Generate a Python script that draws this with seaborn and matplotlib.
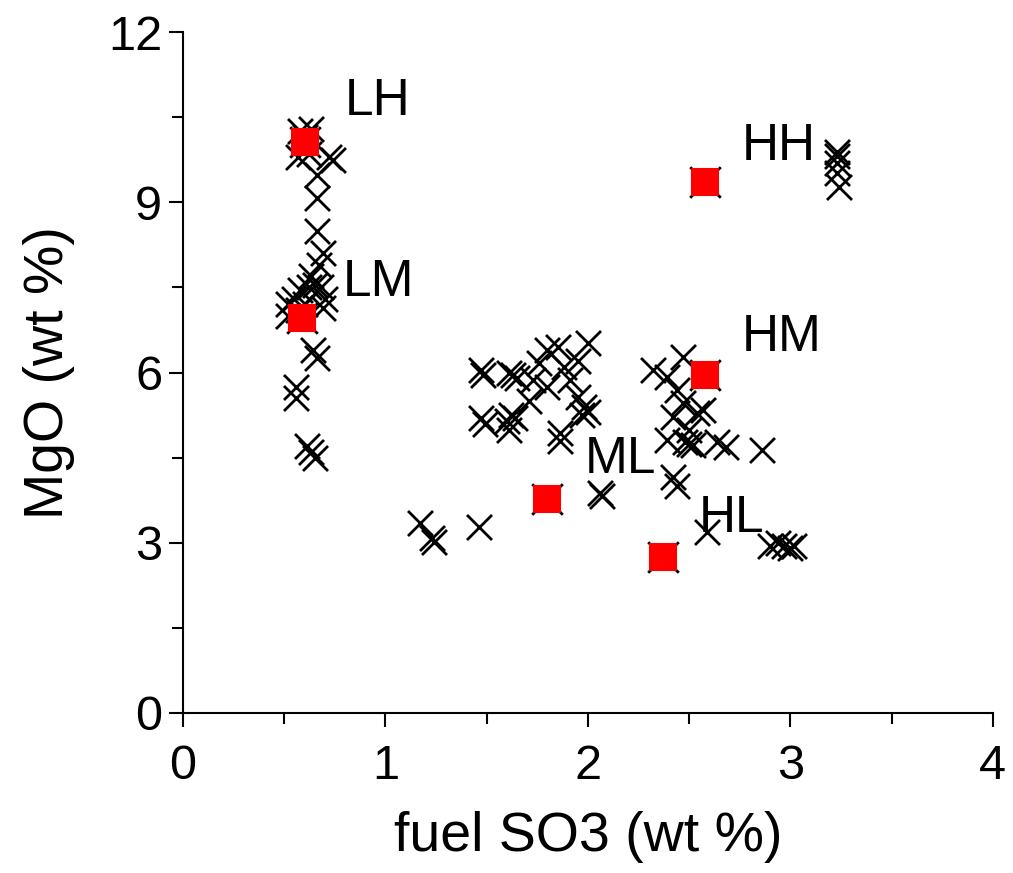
import matplotlib
matplotlib.use("Agg")
import matplotlib.pyplot as plt
import seaborn as sns
import pandas as pd
from matplotlib.ticker import MultipleLocator

# ---- data ----
black_x = [0.58, 0.63, 0.60, 0.57, 0.62, 0.72, 0.74, 0.66, 0.66, 0.66, 0.69, 0.67, 0.63,
           0.55, 0.58, 0.62, 0.65, 0.68, 0.60, 0.57, 0.70, 0.52, 0.52, 0.69, 0.64, 0.66,
           0.56, 0.56, 0.61, 0.63, 0.65,
           1.47, 1.48, 1.47, 1.49, 1.61, 1.63, 1.65, 1.62, 1.64, 1.60, 1.61, 1.80, 1.85,
           2.00, 1.88, 1.80, 1.73, 1.71, 1.98, 2.00, 1.97, 1.95, 1.86, 1.86, 1.91, 1.95,
           1.76, 2.06, 2.07, 1.17, 1.23, 1.24, 1.46,
           2.32, 2.47, 2.39, 2.44, 2.47, 2.54, 2.57, 2.42, 2.50, 2.39, 2.48, 2.50, 2.52,
           2.64, 2.68, 2.86, 2.42, 2.44, 2.59, 2.90, 2.94, 2.97, 3.00, 3.02,
           3.23, 3.23, 3.23, 3.23, 3.24]
black_y = [10.25, 10.30, 10.15, 9.80, 9.85, 9.80, 9.75, 9.48, 9.07, 8.50, 8.10, 7.90, 7.70,
           7.30, 7.45, 7.50, 7.55, 7.50, 7.20, 7.10, 7.30, 7.20, 7.00, 7.13, 6.40, 6.25,
           5.75, 5.55, 4.70, 4.60, 4.50,
           6.05, 5.95, 5.20, 5.10, 6.00, 5.95, 5.90, 5.25, 5.20, 5.15, 4.99, 6.40, 6.45,
           6.52, 6.10, 5.75, 5.87, 5.50, 5.40, 5.30, 5.25, 5.57, 4.93, 4.80, 5.87, 6.20,
           6.17, 3.88, 3.82, 3.35, 3.08, 3.02, 3.28,
           6.04, 6.27, 5.92, 5.69, 5.46, 5.28, 5.34, 5.22, 4.99, 4.81, 4.78, 4.74, 4.72,
           4.78, 4.69, 4.63, 4.15, 4.00, 3.19, 2.95, 3.00, 2.95, 2.90, 2.95,
           9.88, 9.82, 9.69, 9.52, 9.27]

red_names = ["LH", "LM", "HH", "HM", "ML", "HL"]
red_x = [0.60, 0.59, 2.58, 2.58, 1.80, 2.37]
red_y = [10.06, 6.96, 9.36, 5.96, 3.77, 2.74]

label_x = [0.80, 0.79, 2.76, 2.76, 1.985, 2.55]
label_y = [10.77, 7.58, 9.99, 6.61, 4.46, 3.43]

x_label = "fuel SO3 (wt %)"
y_label = "MgO (wt %)"
x_ticks = [0, 1, 2, 3, 4]
y_ticks = [0, 3, 6, 9, 12]

# ---- style ----
sns.set_style("ticks")
plt.rcParams["font.family"] = ["Liberation Sans", "DejaVu Sans"]

black_df = pd.DataFrame({"x": black_x, "y": black_y})
red_df = pd.DataFrame({"x": red_x, "y": red_y, "name": red_names})

fig = plt.figure(figsize=(10.13, 8.73), dpi=100)
ax = fig.add_axes([0.1807, 0.1833, 0.7993, 0.78])

sns.scatterplot(data=black_df, x="x", y="y", marker="x", s=18**2, color="black",
                linewidth=2.0, ax=ax, legend=False, zorder=2)
sns.scatterplot(data=red_df, x="x", y="y", marker="x", s=22**2, color="black",
                linewidth=2.0, ax=ax, legend=False, zorder=3)
sns.scatterplot(data=red_df, x="x", y="y", marker="s", s=19**2, color="#ff0000",
                edgecolor="#ff0000", linewidth=1.5, ax=ax, legend=False, zorder=4)

for name, lx, ly in zip(red_names, label_x, label_y):
    ax.text(lx, ly, name, fontsize=37, ha="left", va="center", color="black", zorder=5)

ax.set_xlim(0, 4)
ax.set_ylim(0, 12)
ax.set_xticks(x_ticks)
ax.set_yticks(y_ticks)
ax.xaxis.set_minor_locator(MultipleLocator(0.5))
ax.yaxis.set_minor_locator(MultipleLocator(1.5))
ax.tick_params(which="major", direction="out", length=10, width=1.5, labelsize=35,
               colors="black", labelcolor="black")
ax.tick_params(axis="x", which="major", pad=12)
ax.tick_params(axis="y", which="major", pad=5)
ax.tick_params(which="minor", direction="out", length=8, width=1.5, colors="black")
ax.set_xlabel(x_label, fontsize=40, labelpad=16, color="black")
ax.set_ylabel(y_label, fontsize=40, labelpad=24, color="black")
for side in ["top", "right"]:
    ax.spines[side].set_visible(False)
for side in ["left", "bottom"]:
    ax.spines[side].set_linewidth(1.5)
    ax.spines[side].set_color("black")

fig.savefig("out.png", dpi=100)
